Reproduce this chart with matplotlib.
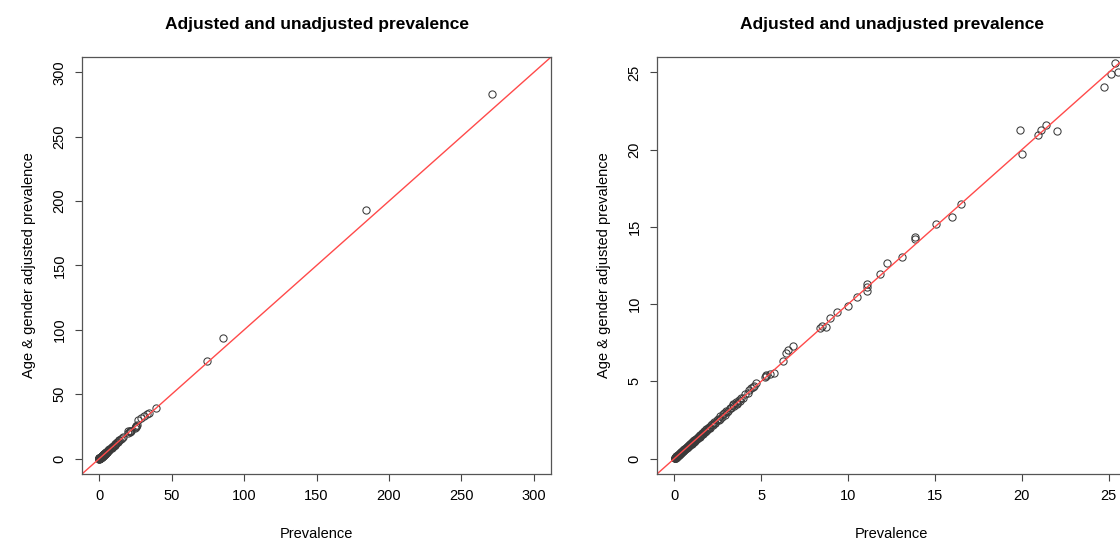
import matplotlib.pyplot as plt

plt.rcParams['font.family'] = ['Liberation Sans', 'DejaVu Sans']

# crude prevalence vs age & gender adjusted prevalence
prev_big = [271.5, 184.0, 85.5, 74.6, 39.1, 34.5, 33.0, 31.1, 28.8, 27.0, 26.0]
adj_big = [283.0, 193.5, 93.3, 76.0, 39.3, 35.4, 34.5, 33.3, 31.5, 29.7, 26.4]

prev_mid = [25.55, 25.36, 25.13, 24.73, 22.03, 21.37, 21.1, 20.94, 20.02, 19.87,
            16.48, 15.98, 15.06, 13.83, 13.83, 13.1, 12.26, 11.82, 11.07, 11.07,
            11.07, 10.49, 9.99, 9.38, 8.93, 8.74, 8.49, 8.36, 6.82, 6.53,
            6.44, 6.24, 5.76, 5.52, 5.28, 5.19, 5.3, 4.71, 4.51, 4.32,
            4.23, 4.4, 4.6]
adj_mid = [25.0, 25.6, 24.87, 24.05, 21.2, 21.62, 21.3, 20.97, 19.75, 21.25,
           16.47, 15.65, 15.18, 14.36, 14.19, 13.07, 12.64, 11.95, 11.3, 11.09,
           10.87, 10.44, 9.88, 9.47, 9.09, 8.53, 8.59, 8.44, 7.3, 7.0,
           6.83, 6.29, 5.57, 5.47, 5.36, 5.28, 5.4, 4.89, 4.63, 4.46,
           4.24, 4.55, 4.7]

prev_small = [0.01, 0.02, 0.03, 0.05, 0.06, 0.08, 0.1, 0.11, 0.13, 0.15,
              0.17, 0.19, 0.2, 0.22, 0.25, 0.27, 0.29, 0.31, 0.34, 0.36,
              0.38, 0.41, 0.43, 0.45, 0.48, 0.5, 0.52, 0.55, 0.58, 0.6,
              0.62, 0.65, 0.68, 0.71, 0.73, 0.76, 0.79, 0.82, 0.85, 0.88,
              0.9, 0.94, 0.97, 1.0, 1.04, 1.08, 1.12, 1.15, 1.19, 1.23,
              1.28, 1.32, 1.36, 1.4, 1.45, 1.5, 1.55, 1.6, 1.66, 1.72,
              1.78, 1.84, 1.9, 1.97, 2.05, 2.12, 2.2, 2.28, 2.36, 2.45,
              2.55, 2.65, 2.72, 2.8, 2.9, 3.0, 3.1, 3.2, 3.28, 3.36,
              3.45, 3.55, 3.62, 3.7, 3.78, 3.85, 3.95, 4.05]
adj_small = [0.01, 0.03, 0.02, 0.06, 0.05, 0.09, 0.1, 0.13, 0.12, 0.16,
             0.18, 0.18, 0.22, 0.21, 0.26, 0.29, 0.28, 0.33, 0.33, 0.38,
             0.37, 0.43, 0.42, 0.47, 0.47, 0.53, 0.51, 0.57, 0.56, 0.63,
             0.6, 0.68, 0.66, 0.74, 0.71, 0.79, 0.77, 0.86, 0.83, 0.91,
             0.88, 0.98, 0.95, 1.04, 1.01, 1.12, 1.09, 1.19, 1.16, 1.27,
             1.25, 1.36, 1.33, 1.45, 1.41, 1.55, 1.52, 1.66, 1.62, 1.78,
             1.74, 1.9, 1.86, 2.03, 2.01, 2.19, 2.16, 2.35, 2.31, 2.52,
             2.5, 2.73, 2.68, 2.88, 2.85, 3.08, 3.05, 3.27, 3.25, 3.44,
             3.4, 3.64, 3.6, 3.8, 3.73, 3.95, 3.9, 4.15]

# extra low-prevalence points that fill the dense band
prev_low = [0.04, 0.07, 0.12, 0.16, 0.21, 0.24, 0.3, 0.33, 0.4, 0.44,
            0.47, 0.54, 0.57, 0.64, 0.7, 0.75, 0.81, 0.87, 0.92, 0.99,
            1.06, 1.1, 1.17, 1.26, 1.34, 1.42, 1.48, 1.58, 1.69, 1.81,
            1.93, 2.01, 2.15, 2.32, 2.5, 2.6, 2.85, 3.05, 3.4, 3.58]
adj_low = [0.05, 0.06, 0.14, 0.15, 0.23, 0.23, 0.32, 0.32, 0.42, 0.43,
           0.49, 0.53, 0.6, 0.62, 0.73, 0.74, 0.84, 0.85, 0.96, 0.97,
           1.1, 1.08, 1.21, 1.24, 1.39, 1.4, 1.53, 1.56, 1.75, 1.79,
           1.99, 1.98, 2.22, 2.29, 2.58, 2.57, 2.94, 3.01, 3.5, 3.55]

prevalence = prev_big + prev_mid + prev_small + prev_low
adjusted = adj_big + adj_mid + adj_small + adj_low

left_ticks = [0, 50, 100, 150, 200, 250, 300]
right_ticks = [0, 5, 10, 15, 20, 25]

fig = plt.figure(figsize=(11.2, 5.44), dpi=100)
ax1 = fig.add_axes([0.0732, 0.1287, 0.4188, 0.7665])
ax2 = fig.add_axes([0.5866, 0.1287, 0.4188, 0.7665])


def draw(ax, lim, ticks):
    ax.plot(prevalence, adjusted, 'o', ms=5.2, mfc='none', mec='#3a3a3a', mew=0.75)
    ax.axline((0, 0), slope=1, color='#ff4a4a', lw=1)
    span = lim * 0.04
    ax.set_xlim(-span, lim + span)
    ax.set_ylim(-span, lim + span)
    ax.set_xticks(ticks)
    ax.set_yticks(ticks)
    ax.tick_params(direction='out', length=5, width=0.8, color='#444444',
                   labelsize=10.5, pad=6)
    plt.setp(ax.get_yticklabels(), rotation=90, va='center')
    for s in ax.spines.values():
        s.set_color('#555555')
        s.set_linewidth(0.9)
    ax.set_xlabel('Prevalence', fontsize=10.5, labelpad=17)
    ax.set_ylabel('Age & gender adjusted prevalence', fontsize=10.5, labelpad=12)
    ax.set_title('Adjusted and unadjusted prevalence', fontsize=12.5,
                 fontweight='bold', pad=20)


draw(ax1, 300, left_ticks)
draw(ax2, 25, right_ticks)

fig.savefig('out.png', dpi=100)
